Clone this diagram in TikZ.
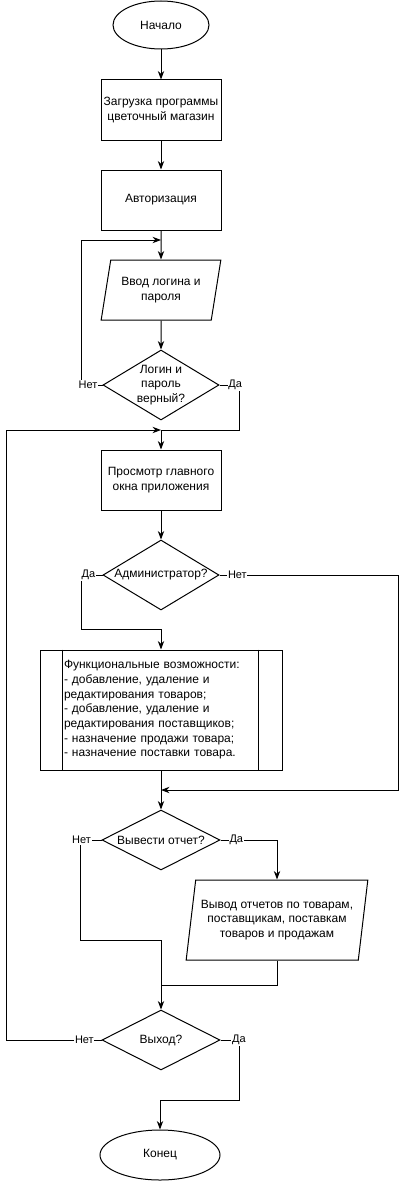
\documentclass[tikz,border=0pt]{standalone}
\usepackage{fontspec}
\setmainfont{Liberation Sans}
\usetikzlibrary{arrows.meta,positioning,shapes.geometric}

\begin{document}
\begin{tikzpicture}[>=Stealth,x=.75pt,y=-.75pt,line width=.75pt]
      \tikzset{
        term/.style={ellipse,draw,inner sep=0pt,font=\fontsize{9}{10.8}\selectfont},
        proc/.style={rectangle,draw,minimum width=90pt,minimum height=45pt,inner sep=1pt,
            align=center,font=\fontsize{9}{10.8}\selectfont},
        io/.style={trapezium,trapezium stretches=true,draw,inner sep=0pt,
            align=center,font=\fontsize{9}{10.8}\selectfont},
        dec/.style={diamond,draw,inner sep=0pt,
            align=center,font=\fontsize{9}{10.8}\selectfont},
        lbl/.style={fill=white,inner sep=.5pt,font=\fontsize{8.25}{9}\selectfont},
        flow/.style={->,draw=black},
        pipe/.style={draw=black}
      }
      \useasboundingbox (0,0) rectangle (406,1181);

      \node[term,minimum width=72pt,minimum height=36pt] (start) at (161,25) {Начало};
      \node[proc] (load) at (161,110) {Загрузка программы\\цветочный магазин};
      \node[proc] (auth) at (161,200) {Авторизация};
      \node[io,minimum width=90pt,minimum height=45pt,
        trapezium left angle=73.3,trapezium right angle=106.7] (login) at (161,290)
        {Ввод логина и\\пароля};
      \node[dec,aspect=1.657,minimum width=87pt,minimum height=52.5pt] (chk) at (161,385)
        {Логин и\\пароль\\верный?};
      \node[proc] (view) at (161,480) {Просмотр главного\\окна приложения};
      \node[dec,aspect=1.657,minimum width=87pt,minimum height=52.5pt] (adm) at (161,575)
        {Администратор?};
      \node[rectangle,draw,minimum width=181.5pt,minimum height=90pt,inner sep=0pt,
        text width=145.5pt,align=left,font=\fontsize{9}{11}\selectfont] (fn) at (161,710)
        {Функциональные возможности:\\- добавление, удаление и\\редактирования товаров;\\
         - добавление, удаление и\\редактирования поставщиков;\\- назначение продажи товара;\\
         - назначение поставки товара.};
      \node[dec,aspect=1.97,minimum width=88.5pt,minimum height=45pt] (rep) at (161,840)
        {Вывести отчет?};
      \node[io,minimum width=136.5pt,minimum height=60pt,
        trapezium left angle=77.3,trapezium right angle=102.7] (out) at (277,920)
        {Вывод отчетов по товарам,\\поставщикам, поставкам\\товаров и продажам};
      \node[dec,aspect=1.97,minimum width=88.5pt,minimum height=45pt] (ex) at (161,1040)
        {Выход?};
      \node[term,minimum width=90pt,minimum height=37.5pt] (stop) at (160,1155) {Конец};

      \foreach \s/\d in {west/17.25pt,east/-18pt}{
          \draw ([xshift=\d]fn.north \s)--([xshift=\d]fn.south \s);
        }

      \coordinate (m1) at (161,240);
      \coordinate (m2) at (161,430);
      \coordinate (m3) at (161,629);
      \coordinate (m4) at (161,790);
      \coordinate (m5) at (161,940);
      \coordinate (m6) at (161,985);
      \coordinate (m7) at (160,1100);

      \draw[flow] (start)--(load);
      \draw[flow] (load)--(auth);
      \draw[flow] (auth)--(login);
      \draw[flow] (login)--(chk);
      \draw[flow] (chk.west)--node[lbl,pos=.69]{Нет}++(-21,0)|-(m1);
      \draw[flow] (chk.east)--node[lbl,pos=.78]{Да}++(20,0)|-(m2)--(view);
      \draw[flow] (view)--(adm);
      \draw[flow] (adm.west)--node[lbl,pos=.67]{Да}++(-21,0)|-(m3)--(fn);
      \draw[flow] (adm.east)--node[lbl,pos=.1]{Нет}++(179,0)|-(m4);
      \draw[flow] (fn)--(rep);
      \draw[flow] (rep.west)--node[lbl,pos=.95]{Нет}++(-21,0)|-(m5)--(ex);
      \draw[flow] (rep.east)--node[lbl,pos=.28]{Да}(rep.east-|out.north)--(out.north);
      \draw[pipe] (out.south)|-(m6);
      \draw[flow] (ex.west)--node[lbl,pos=.18]{Нет}++(-95,0)|-(m2);
      \draw[flow] (ex.east)--node[lbl,pos=.97]{Да}++(19,0)|-(m7)--(stop);
    \end{tikzpicture}
\end{document}
